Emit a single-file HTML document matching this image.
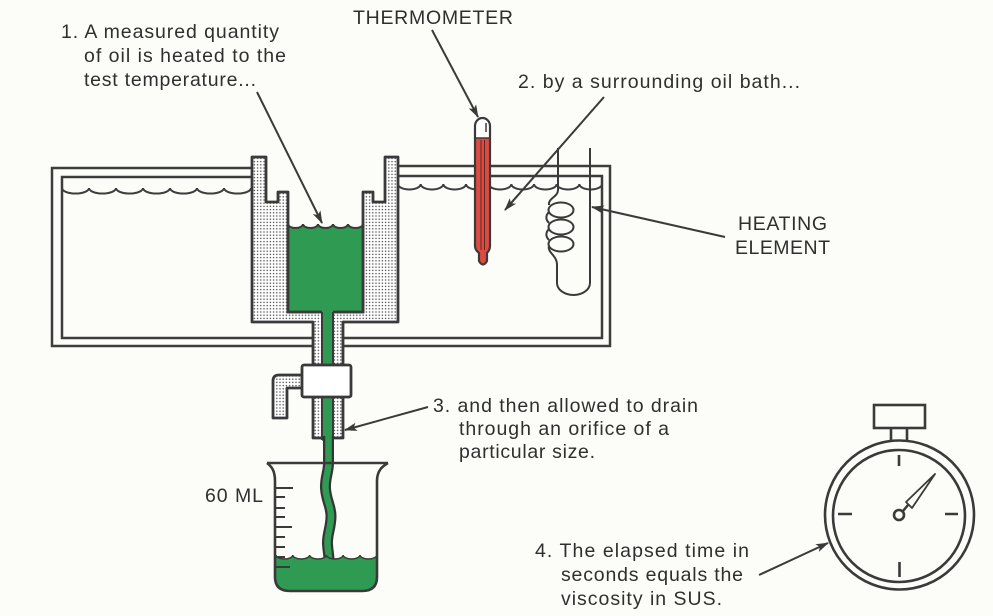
<!DOCTYPE html>
<html>
<head>
<meta charset="utf-8">
<style>
html,body{margin:0;padding:0;background:#fcfcf8;}
svg{display:block;}
text{font-family:"Liberation Sans",Arial,sans-serif;fill:#2f2f2f;font-size:19.5px;}
</style>
</head>
<body>
<svg width="993" height="616" viewBox="0 0 993 616" xmlns="http://www.w3.org/2000/svg">
<defs>
  <pattern id="dots" width="3.2" height="3.2" patternUnits="userSpaceOnUse">
    <rect width="3.2" height="3.2" fill="#ffffff"/>
    <circle cx="1.6" cy="1.6" r="0.75" fill="#555555"/>
  </pattern>
  <marker id="ah" markerUnits="userSpaceOnUse" markerWidth="14" markerHeight="10" refX="12" refY="5" orient="auto">
    <path d="M0,0.8 L13,5 L0,9.2 L3,5 Z" fill="#3a3a3a"/>
  </marker>
</defs>

<rect width="993" height="616" fill="#fcfcf8"/>

<!-- Bath frame -->
<g fill="none" stroke="#3d3d3d" stroke-width="2.5">
  <path d="M252,168 H52 V346 H313"/>
  <path d="M343,346 H610 V166 H398"/>
  <path d="M252,177 H62 V338 H313"/>
  <path d="M343,338 H602 V176 H398"/>
</g>

<!-- Bath water waves -->
<g fill="none" stroke="#3d3d3d" stroke-width="2">
  <path d="M62,188 a13.5,5.5 0 0 0 27,0 a13.5,5.5 0 0 0 27,0 a13.5,5.5 0 0 0 27,0 a13.5,5.5 0 0 0 27,0 a13.5,5.5 0 0 0 27,0 a13.5,5.5 0 0 0 27,0 a13.5,5.5 0 0 0 27,0"/>
  <path d="M398,184 a11.33,5.5 0 0 0 22.67,0 a11.33,5.5 0 0 0 22.67,0 a11.33,5.5 0 0 0 22.67,0 a11.33,5.5 0 0 0 22.67,0 a11.33,5.5 0 0 0 22.67,0 a11.33,5.5 0 0 0 22.67,0 a11.33,5.5 0 0 0 22.67,0 a11.33,5.5 0 0 0 22.67,0 a11.33,5.5 0 0 0 22.67,0"/>
</g>

<!-- Cup with stippled walls -->
<path d="M252,157 H266 V202 H278 V192 H288 V312 H363 V192 H373 V202 H385 V157 H398 V322 H343 V365 H313 V322 H252 Z"
      fill="url(#dots)" stroke="#3a3a3a" stroke-width="2.8" stroke-linejoin="round"/>

<!-- Green oil in cup -->
<path d="M288,224 a7.5,4 0 0 0 15,0 a7.5,4 0 0 0 15,0 a7.5,4 0 0 0 15,0 a7.5,4 0 0 0 15,0 a7.5,4 0 0 0 15,0 V312 H288 Z"
      fill="#2e9a52"/>
<path d="M288,224 a7.5,4 0 0 0 15,0 a7.5,4 0 0 0 15,0 a7.5,4 0 0 0 15,0 a7.5,4 0 0 0 15,0 a7.5,4 0 0 0 15,0"
      fill="none" stroke="#3a3a3a" stroke-width="2"/>
<path d="M288,224 V312 H363 V224" fill="none" stroke="#3a3a3a" stroke-width="2.8"/>

<!-- Upper channel -->
<rect x="322" y="310" width="11" height="56" fill="#2e9a52"/>
<path d="M322,312 V366 M333,312 V366" stroke="#3a3a3a" stroke-width="2"/>

<!-- Side arm -->
<path d="M302,375 H279 Q273,375 273,381 V418 H287 V388 H302 Z" fill="url(#dots)" stroke="#3a3a3a" stroke-width="2.8" stroke-linejoin="round"/>

<!-- Lower tube -->
<path d="M313,397 V438 H343 V397" fill="url(#dots)" stroke="#3a3a3a" stroke-width="2.8" stroke-linejoin="round"/>
<rect x="322" y="396" width="11" height="45" fill="#2e9a52"/>
<path d="M322,397 V440 M333,397 V440" stroke="#3a3a3a" stroke-width="2"/>

<!-- Stopcock -->
<rect x="302" y="365" width="49" height="32" rx="2" fill="#ffffff" stroke="#3a3a3a" stroke-width="2.8"/>

<!-- Stream -->
<path d="M328.5,436 V463 C328.5,472 325,478 325.5,488 C326,500 331,506 331,516 C331,528 327,534 327.5,544 C328,552 329,555 329,560" fill="none" stroke="#353535" stroke-width="11"/>
<path d="M328.5,436 V463 C328.5,472 325,478 325.5,488 C326,500 331,506 331,516 C331,528 327,534 327.5,544 C328,552 329,555 329,560" fill="none" stroke="#2e9a52" stroke-width="6.5"/>

<!-- Beaker liquid -->
<path d="M276,555 a8.4,4 0 0 0 16.8,0 a8.4,4 0 0 0 16.8,0 a8.4,4 0 0 0 16.8,0 a8.4,4 0 0 0 16.8,0 a8.4,4 0 0 0 16.8,0 a8.4,4 0 0 0 16.8,0 V577 Q377,590 362,590 H290 Q276,590 276,577 Z" fill="#2e9a52"/>
<path d="M276,555 a8.4,4 0 0 0 16.8,0 a8.4,4 0 0 0 16.8,0 a8.4,4 0 0 0 16.8,0 a8.4,4 0 0 0 16.8,0 a8.4,4 0 0 0 16.8,0 a8.4,4 0 0 0 16.8,0" fill="none" stroke="#3a3a3a" stroke-width="1.5"/>

<!-- Beaker outline -->
<g fill="none" stroke="#3a3a3a" stroke-width="2.6">
  <path d="M267,463 H388"/>
  <path d="M267,463 C271,466 275,470 275,481 V577 Q275,591 290,591 H362 Q377,591 377,577 V481 C377,470 383,466 388,463"/>
</g>
<!-- graduations -->
<g stroke="#3a3a3a" stroke-width="2">
  <path d="M276,488 H293 M276,497 H285 M276,508 H285 M276,517 H285 M276,527 H292 M276,537 H285 M276,547 H285 M276,557 H285 M276,567 H290"/>
</g>

<!-- Thermometer -->
<path d="M475,138 V126 A7.5,8 0 0 1 490,126 V138 Z" fill="#ffffff"/>
<path d="M475,138 H490 V246 Q490,250 487,253 V261 Q483,268 479,261 V253 Q475,250 475,246 Z" fill="#de4a40"/>
<path d="M475,126 A7.5,8 0 0 1 490,126 V246 Q490,250 487,253 V261 Q483,268 479,261 V253 Q475,250 475,246 Z" fill="none" stroke="#3a3a3a" stroke-width="2.2"/>
<path d="M475,138 H490" stroke="#3a3a3a" stroke-width="1.5"/>
<path d="M481,140 V250 M484.5,140 V250" stroke="#5a2a28" stroke-width="1"/>
<path d="M486,123 V132" stroke="#3a3a3a" stroke-width="1.5"/>

<!-- Heating element -->
<g fill="none" stroke="#3a3a3a" stroke-width="2">
  <path d="M558,148 V190 C558,197 548,198 549,205"/>
  <ellipse cx="561" cy="210" rx="12.5" ry="7.5"/>
  <ellipse cx="561" cy="227" rx="12.5" ry="7.5"/>
  <ellipse cx="561" cy="244" rx="12.5" ry="7.5"/>
  <path d="M549,212 C545,216 546,220 549,223 M549,229 C545,233 546,237 549,240"/>
  <path d="M549,246 C547,252 557,256 557,264 V283 A16.5,12 0 0 0 590,283 V148"/>
  <path d="M590,176 H602"/>
</g>

<!-- Stopwatch -->
<g fill="none" stroke="#3a3a3a" stroke-width="2.6">
  <rect x="874" y="405" width="51" height="23"/>
  <path d="M891,428 V441 M907,428 V441"/>
  <circle cx="899.5" cy="515" r="74.5" fill="#fcfcf8"/>
  <circle cx="899" cy="516" r="66"/>
  <path d="M899,455 V466 M899.5,562 V577 M838,514 H852 M945,514 H958"/>
  <circle cx="899" cy="515" r="5"/>
</g>
<path d="M935,474 L912,508 L906,502 Z" fill="none" stroke="#3a3a3a" stroke-width="1.8" stroke-linejoin="round"/>
<path d="M903,511 L908,505" stroke="#3a3a3a" stroke-width="2.5"/>

<!-- Arrows -->
<g stroke="#3a3a3a" stroke-width="2" fill="none" marker-end="url(#ah)">
  <line x1="257" y1="92" x2="322" y2="223"/>
  <line x1="432" y1="30" x2="478" y2="117"/>
  <line x1="604" y1="97" x2="505" y2="210"/>
  <line x1="725" y1="237" x2="592" y2="207"/>
  <line x1="428" y1="407" x2="345" y2="430"/>
  <line x1="759" y1="575" x2="828" y2="543"/>
</g>

<!-- Text -->
<text x="61" y="38" textLength="218" lengthAdjust="spacing">1. A measured quantity</text>
<text x="84" y="62" textLength="202" lengthAdjust="spacing">of oil is heated to the</text>
<text x="84" y="86" textLength="172" lengthAdjust="spacing">test temperature...</text>

<text x="353" y="24" textLength="160" lengthAdjust="spacing">THERMOMETER</text>

<text x="518" y="88" textLength="282" lengthAdjust="spacing">2. by a surrounding oil bath...</text>

<text x="738" y="230" textLength="89" lengthAdjust="spacing">HEATING</text>
<text x="735" y="254" textLength="95" lengthAdjust="spacing">ELEMENT</text>

<text x="433" y="412" textLength="265" lengthAdjust="spacing">3. and then allowed to drain</text>
<text x="459" y="435" textLength="210" lengthAdjust="spacing">through an orifice of a</text>
<text x="459" y="458" textLength="136" lengthAdjust="spacing">particular size.</text>

<text x="205" y="502" textLength="58" lengthAdjust="spacing">60 ML</text>

<text x="535" y="557" textLength="214" lengthAdjust="spacing">4. The elapsed time in</text>
<text x="561" y="581" textLength="182" lengthAdjust="spacing">seconds equals the</text>
<text x="561" y="605" textLength="161" lengthAdjust="spacing">viscosity in SUS.</text>
</svg>
</body>
</html>
